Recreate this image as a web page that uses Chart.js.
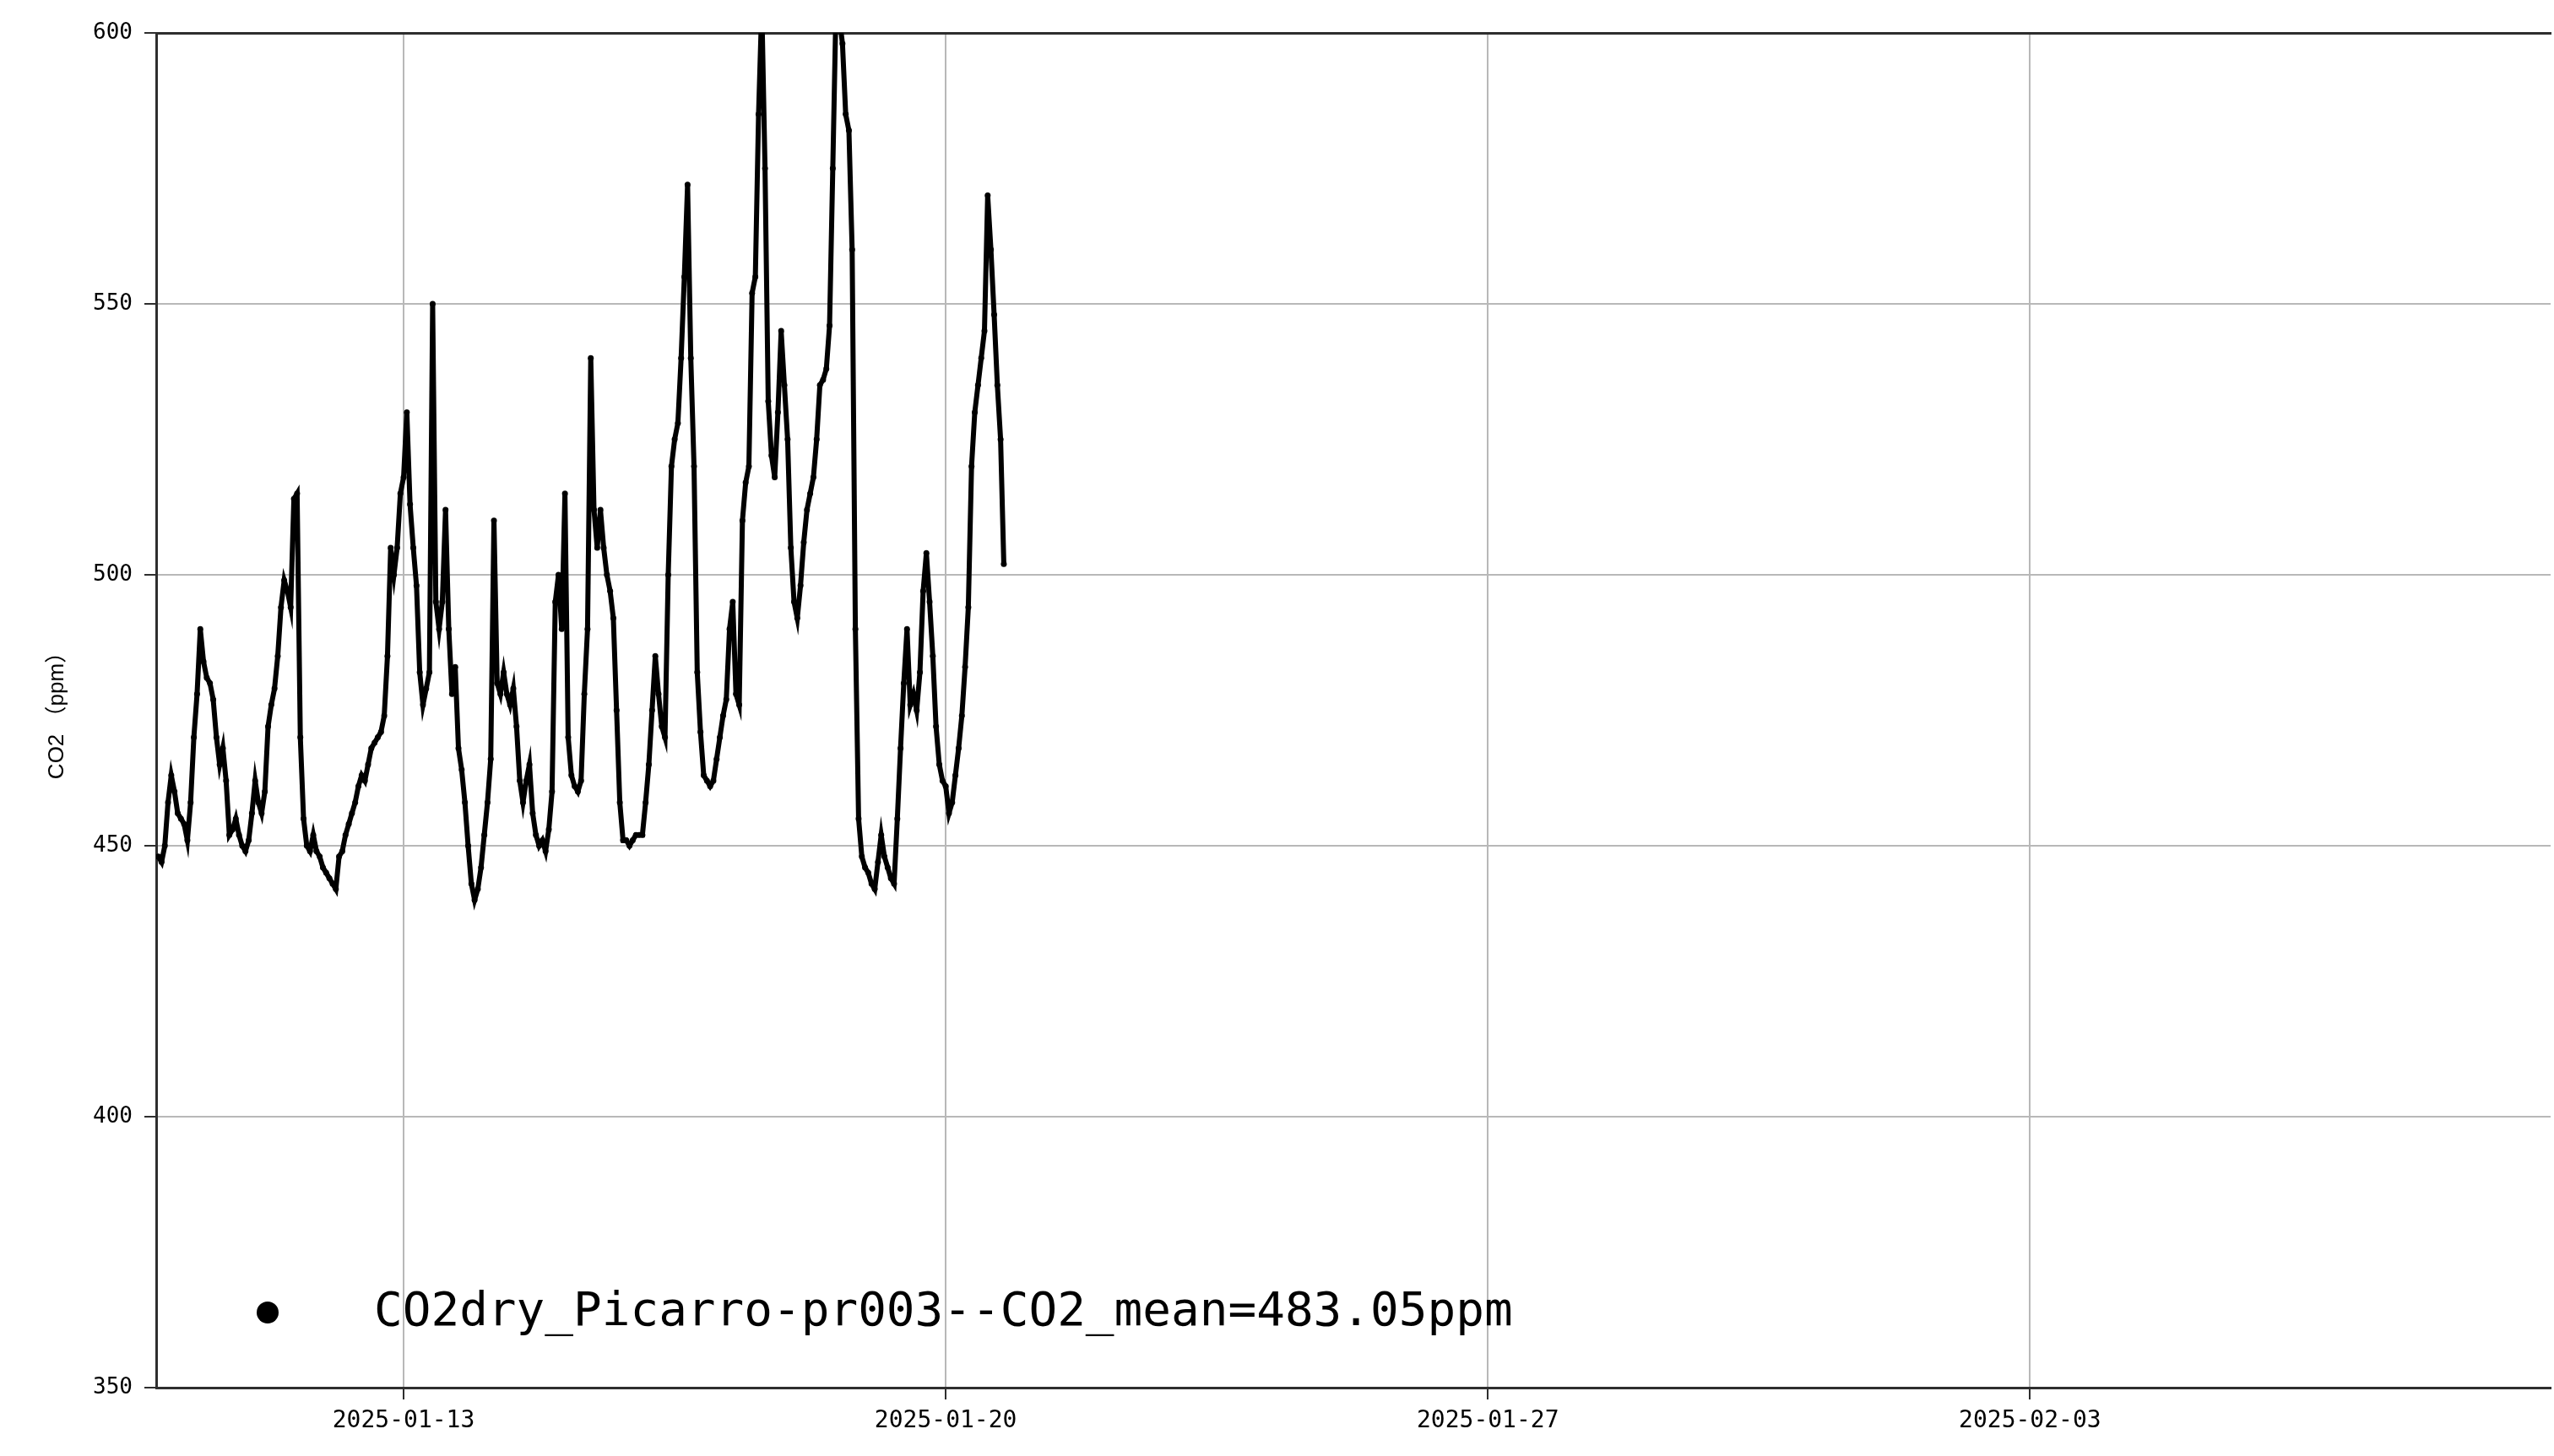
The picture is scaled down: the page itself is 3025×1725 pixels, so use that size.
<!DOCTYPE html>
<html>
<head>
<meta charset="utf-8">
<script src="https://cdn.jsdelivr.net/npm/chart.js@4.4.1/dist/chart.umd.min.js"></script>
<style>
  html, body { margin: 0; padding: 0; background: #ffffff; }
  canvas { display: block; }
</style>
</head>
<body>
<canvas id="c" width="3025" height="1725"></canvas>
<script>
// ---- data (hourly readings, first reading 2025-01-09 20:00) ----
const seriesLabel = 'CO2dry_Picarro-pr003--CO2_mean=483.05ppm';
const startTimeUTC = Date.UTC(2025, 0, 9, 20, 0);
const stepHours = 1;
const co2Values = [
  448, 447, 450, 458,
  463, 460, 456, 455, 454, 451, 458, 470, 478, 490, 484, 481,
  480, 477, 470, 465, 468, 462, 452, 453, 455, 452, 450, 449,
  451, 456, 462, 458, 456, 460, 472, 476, 479, 485, 494, 499,
  497, 494, 514, 515, 470, 455, 450, 449, 452, 449, 448, 446,
  445, 444, 443, 442, 448, 449, 452, 454, 456, 458, 461, 463,
  462, 465, 468, 469, 470, 471, 474, 485, 505, 500, 505, 515,
  518, 530, 513, 505, 498, 482, 476, 479, 482, 550, 495, 490,
  495, 512, 490, 478, 483, 468, 464, 458, 450, 443, 440, 442,
  446, 452, 458, 466, 510, 480, 478, 482, 478, 476, 479, 472,
  462, 458, 462, 465, 456, 452, 450, 451, 449, 453, 460, 495,
  500, 490, 515, 470, 463, 461, 460, 462, 478, 490, 540, 512,
  505, 512, 505, 500, 497, 492, 475, 458, 451, 451, 450, 451,
  452, 452, 452, 458, 465, 475, 485, 478, 472, 470, 500, 520,
  525, 528, 540, 555, 572, 540, 520, 482, 471, 463, 462, 461,
  462, 466, 470, 474, 477, 490, 495, 478, 476, 510, 517, 520,
  552, 555, 585, 605, 575, 532, 522, 518, 530, 545, 535, 525,
  505, 495, 492, 498, 506, 512, 515, 518, 525, 535, 536, 538,
  546, 575, 605, 603, 598, 585, 582, 560, 490, 455, 448, 446,
  445, 443, 442, 447, 452, 448, 446, 444, 443, 455, 468, 480,
  490, 476, 478, 475, 482, 497, 504, 495, 485, 472, 465, 462,
  461, 456, 458, 463, 468, 474, 483, 494, 520, 530, 535, 540,
  545, 570, 560, 548, 535, 525, 502
];
const xTickDates = ['2025-01-13', '2025-01-20', '2025-01-27', '2025-02-03'];
const yTickValues = [350, 400, 450, 500, 550, 600];
const xRange = ['2025-01-09T19:20:00Z', '2025-02-09T17:20:00Z'];
const yRange = [350, 600];
const yTitle = 'CO2 （ppm）';

// ---- build ----
const HOUR = 3600000;
const points = co2Values.map((v, i) => ({ x: startTimeUTC + i * stepHours * HOUR, y: v }));
const xTickMs = xTickDates.map(d => Date.parse(d + 'T00:00:00Z'));
const fmtDate = ms => new Date(ms).toISOString().slice(0, 10);

const spine = '#2e2e2e';
const gridCol = '#b8b8b8';

// legend marker: a filled black dot (slightly right of its image centre)
const dot = document.createElement('canvas');
dot.width = 40; dot.height = 28;
(function () {
  const g = dot.getContext('2d');
  g.fillStyle = '#000000';
  g.beginPath(); g.arc(26, 14, 13, 0, Math.PI * 2); g.fill();
})();

new Chart(document.getElementById('c'), {
  type: 'scatter',
  data: {
    datasets: [{
      label: seriesLabel,
      data: points,
      showLine: true,
      borderColor: '#000000',
      backgroundColor: '#000000',
      borderWidth: 6,
      pointRadius: 3.5,
      pointBorderWidth: 0,
      pointStyle: 'circle'
    }]
  },
  options: {
    responsive: false,
    animation: false,
    layout: { padding: 0 },
    plugins: {
      tooltip: { enabled: false },
      legend: {
        position: 'chartArea',
        align: 'end',
        labels: {
          usePointStyle: true,
          pointStyleWidth: 208,
          padding: 22,
          color: '#000000',
          font: { family: '"DejaVu Sans Mono", monospace', size: 56 },
          generateLabels: chart => {
            const items = Chart.defaults.plugins.legend.labels.generateLabels(chart);
            items.forEach(it => { it.pointStyle = dot; });
            return items;
          }
        }
      }
    },
    scales: {
      x: {
        type: 'linear',
        position: 'bottom',
        min: Date.parse(xRange[0]),
        max: Date.parse(xRange[1]),
        afterBuildTicks: s => { s.ticks = xTickMs.map(v => ({ value: v })); },
        afterFit: s => { s.height = 81; },
        ticks: {
          autoSkip: false,
          maxRotation: 0,
          padding: 9,
          color: '#000000',
          font: { family: '"DejaVu Sans Mono", monospace', size: 28 },
          callback: v => fmtDate(v)
        },
        grid: { color: gridCol, lineWidth: 2, tickLength: 14, tickColor: spine, tickWidth: 2 },
        border: { display: true, color: spine, width: 3 }
      },
      xTop: {
        type: 'linear',
        position: 'top',
        min: 0, max: 1,
        afterFit: s => { s.height = 39; },
        ticks: { display: false },
        grid: { display: false, drawTicks: false },
        border: { display: true, color: spine, width: 3 }
      },
      y: {
        type: 'linear',
        min: yRange[0],
        max: yRange[1],
        afterBuildTicks: s => { s.ticks = yTickValues.map(v => ({ value: v })); },
        afterFit: s => { s.width = 185; },
        ticks: {
          padding: 14,
          color: '#000000',
          font: { family: '"DejaVu Sans Mono", monospace', size: 26 }
        },
        grid: { color: gridCol, lineWidth: 2, tickLength: 14, tickColor: spine, tickWidth: 2 },
        border: { display: true, color: spine, width: 3 },
        title: {
          display: true,
          text: yTitle,
          color: '#000000',
          font: { family: '"Liberation Sans", "Noto Sans CJK SC", sans-serif', size: 26 },
          padding: { top: 52, bottom: 0 }
        }
      }
    }
  }
});
</script>
</body>
</html>
